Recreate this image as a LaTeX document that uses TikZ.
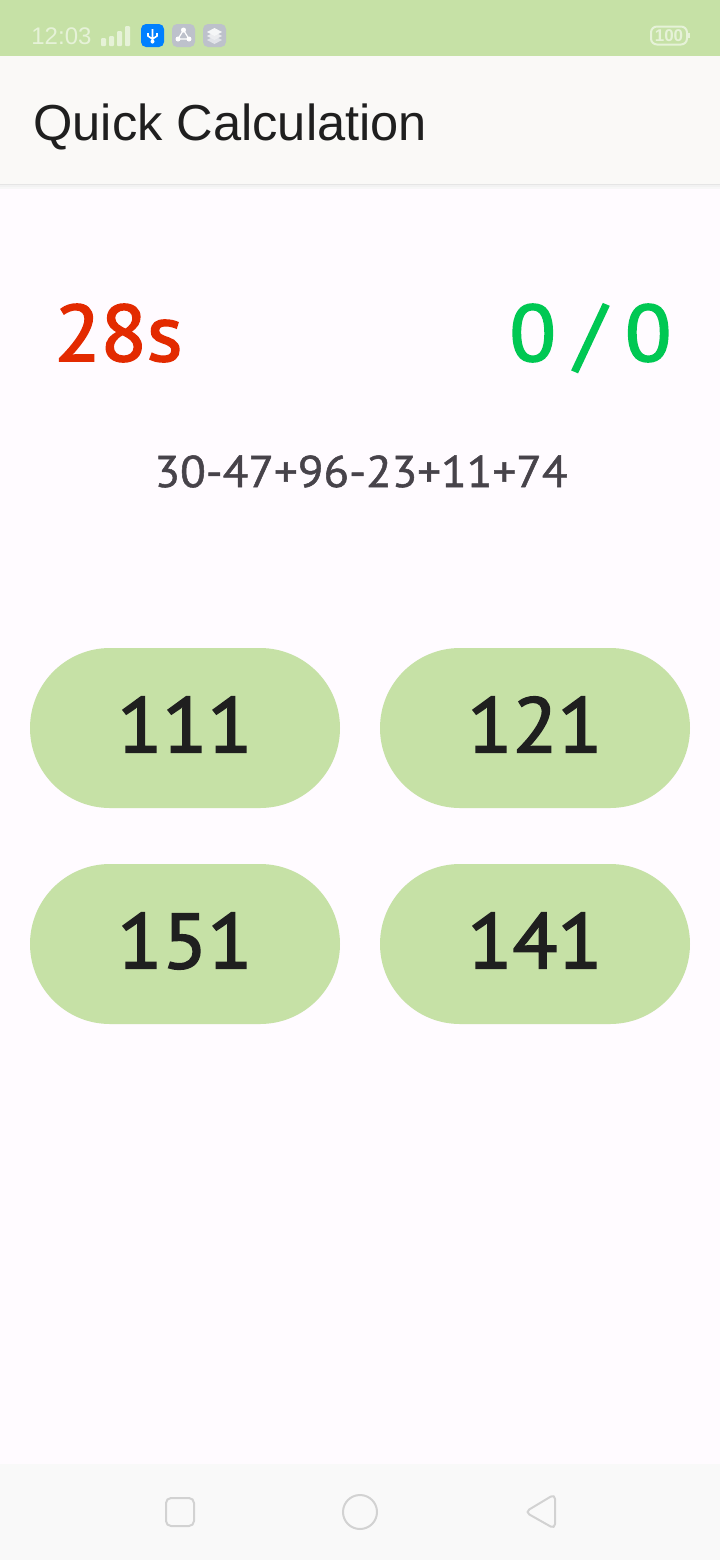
\documentclass[tikz,border=0pt]{standalone}
\usepackage{fontspec}
\setmainfont{Liberation Sans}
\newfontfamily\numfont[FakeBold=2.2,FakeStretch=1.06]{PT Sans}
\newfontfamily\sumfont[FakeBold=1.2,FakeStretch=1.06]{PT Sans}
\definecolor{barGreen}{HTML}{C6E1A6}
\definecolor{headGrey}{HTML}{FAF9F7}
\definecolor{pageWhite}{HTML}{FFFBFF}
\definecolor{navGrey}{HTML}{F9F9F9}
\definecolor{timeRed}{HTML}{E32A00}
\definecolor{scoreGreen}{HTML}{00C853}
\definecolor{sumGrey}{HTML}{47434A}
\definecolor{inkBlack}{HTML}{1F1F1F}
\definecolor{iconGrey}{HTML}{BDC1CB}
\definecolor{usbBlue}{HTML}{0080FF}
\definecolor{navLine}{HTML}{D2D2D2}
\definecolor{statusWhite}{HTML}{E6F2D8}
\tikzstyle{Answer}=[fill=barGreen, shape=rectangle, rounded corners=40, minimum width=155pt, minimum height=80pt, inner sep=0pt, text=inkBlack, text depth=3.5pt, font=\numfont\fontsize{39}{39}\selectfont]
\tikzstyle{Status}=[text=statusWhite, inner sep=0pt, font=\fontsize{12}{12}\selectfont]
\tikzstyle{Score}=[inner sep=0pt, anchor=base, font=\numfont\fontsize{40}{40}\selectfont]
\tikzstyle{nav}=[draw=navLine, line width=1pt]
\tikzstyle{tile}=[rounded corners=2.5pt]

\begin{document}
\begin{tikzpicture}[x=0.5pt, y=-0.5pt]
	\useasboundingbox (0,0) rectangle (720,1560);
	\fill [pageWhite] (0,0) rectangle (720,1560);
	% bars
	\fill [black!3] (0,184) rectangle (720,189);
	\fill [black!5] (0,184) rectangle (720,187);
	\fill [black!10] (0,184) rectangle (720,185);
	\fill [barGreen] (0,0) rectangle (720,56);
	\fill [headGrey] (0,56) rectangle (720,184);
	\fill [navGrey] (0,1464) rectangle (720,1560);
	% status bar
	\node [style=Status, anchor=west] (clock) at (31,36) {12:03};
	\foreach \x/\h in {101/8, 109/10, 117/15, 125/20} {
		\fill [statusWhite, rounded corners=0.5pt] (\x,46) rectangle (\x+5,46-\h);
	}
	\fill [usbBlue, style=tile] (141,24) rectangle (164,47);
	\draw [white, line width=0.8pt] (152.5,29) -- (152.5,43) (148,33) -- (148,36) -- (152.5,39) -- (157,36) -- (157,33);
	\fill [white] (152.5,41.5) circle (2);
	\fill [iconGrey, style=tile] (172,24) rectangle (195,47);
	\draw [white, line width=0.6pt] (183.5,30) -- (178,39) -- (189,39) -- cycle;
	\foreach \x/\y in {183.5/30, 178/39, 189/39} {
		\fill [white] (\x,\y) circle (2.5);
	}
	\fill [iconGrey, style=tile] (203,24) rectangle (226,47);
	\foreach \y/\c in {40/55, 36/70, 32/85} {
		\fill [white!\c!iconGrey] (214.5,\y-4) -- (222,\y) -- (214.5,\y+4) -- (207,\y) -- cycle;
	}
	% battery
	\draw [statusWhite, line width=1pt, rounded corners=3pt] (651,26.5) rectangle (687,44.5);
	\fill [statusWhite] (688,33) rectangle (690,38);
	\node [style=Status, font=\bfseries\fontsize{8.5}{8.5}\selectfont] (battery) at (669,36) {100};
	% header
	\node [anchor=base west, inner sep=0pt, text=inkBlack, font=\fontsize{25.3}{25.3}\selectfont] (title) at (33,140) {Quick Calculation};
	% score line
	\node [style=Score, text=timeRed] (timer) at (118.5,361) {28s};
	\node [style=Score, text=scoreGreen] (score) at (590.5,361) {0\kern-1.5pt\ /\kern-1.5pt\ 0};
	\node [inner sep=0pt, anchor=base, text=sumGrey, font=\sumfont\fontsize{22.2}{22.2}\selectfont] (sum) at (361,487) {30-47+96-23+11+74};
	% answers
	\node [style=Answer] (answer_a) at (185,728) {111};
	\node [style=Answer] (answer_b) at (535,728) {121};
	\node [style=Answer] (answer_c) at (185,944) {151};
	\node [style=Answer] (answer_d) at (535,944) {141};
	% nav buttons
	\draw [style=nav, rounded corners=2.5pt] (166,1498) rectangle (194,1526);
	\draw [style=nav] (360,1512) circle (17);
	\draw [style=nav, rounded corners=2.5pt, line join=round] (555,1494) -- (555,1529) -- (525,1512) -- cycle;
\end{tikzpicture}
\end{document}
